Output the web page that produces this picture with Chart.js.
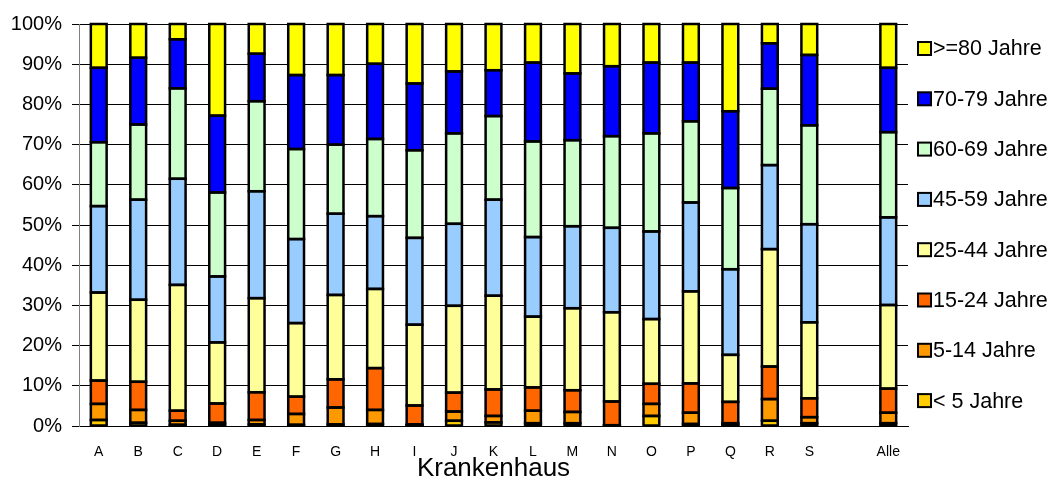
<!DOCTYPE html>
<html>
<head>
<meta charset="utf-8">
<script src="https://cdn.jsdelivr.net/npm/chart.js@4.4.1/dist/chart.umd.min.js"></script>
<style>
  html, body { margin: 0; padding: 0; background: #fff; }
  #wrap { width: 1055px; height: 482px; position: relative; }
</style>
</head>
<body>
<div id="wrap"><canvas id="chart"></canvas></div>
<script>
// Hospitals (an empty slot separates the single hospitals from the total)
const categories = ['A','B','C','D','E','F','G','H','I','J','K','L','M','N','O','P','Q','R','S','','Alle'];

// Share of patients per age group, in percent (each hospital sums to 100)
const under5   = [1.5, 0.8, 0.3, 0.3, 0.4, 0.3, 0.4, 0.5, 0.2, 1.3, 0.9, 0.7, 0.7, 0.1, 2.5, 0.5, 0.3, 1.3, 0.7, null, 0.7];
const age5to14 = [4.0, 3.2, 1.0, 0.5, 1.1, 2.7, 4.2, 3.5, 0.2, 2.3, 1.6, 3.1, 2.8, 0.1, 3.0, 2.8, 0.4, 5.4, 1.5, null, 2.6];
const age15to24= [5.8, 7.0, 2.5, 4.8, 6.9, 4.3, 7.0, 10.4, 4.7, 4.7, 6.6, 5.8, 5.4, 5.9, 5.0, 7.3, 5.3, 8.1, 4.7, null, 6.0];
const age25to44= [21.9, 20.4, 31.3, 15.2, 23.4, 18.3, 21.0, 19.7, 20.1, 21.6, 23.3, 17.6, 20.4, 22.2, 16.1, 22.9, 11.7, 29.2, 18.9, null, 20.8];
const age45to59= [21.5, 24.9, 26.4, 16.4, 26.6, 20.9, 20.2, 18.1, 21.6, 20.4, 23.9, 19.8, 20.4, 21.0, 21.8, 22.1, 21.3, 20.9, 24.4, null, 21.8];
const age60to69= [15.9, 18.7, 22.5, 20.9, 22.4, 22.4, 17.2, 19.2, 21.8, 22.5, 20.8, 23.8, 21.4, 22.8, 24.4, 20.2, 20.2, 19.0, 24.6, null, 21.2];
const age70to79= [18.5, 16.6, 12.2, 19.1, 11.8, 18.4, 17.3, 18.7, 16.6, 15.4, 11.4, 19.6, 16.6, 17.4, 17.6, 14.6, 19.1, 11.3, 17.5, null, 16.0];
const age80plus= [10.9, 8.4, 3.8, 22.8, 7.4, 12.7, 12.7, 9.9, 14.8, 11.8, 11.5, 9.6, 12.3, 10.5, 9.6, 9.6, 21.7, 4.8, 7.7, null, 10.9];

const seriesLabels = ['< 5 Jahre','5-14 Jahre','15-24 Jahre','25-44 Jahre','45-59 Jahre','60-69 Jahre','70-79 Jahre','>=80 Jahre'];
const seriesValues = [under5, age5to14, age15to24, age25to44, age45to59, age60to69, age70to79, age80plus];
const seriesColors = ['#FFCC00','#FF9900','#FF6600','#FFFF99','#99CCFF','#CCFFCC','#0000FF','#FFFF00'];

const yTicks = [0,10,20,30,40,50,60,70,80,90,100];

const FONT = "'Liberation Sans', Arial, sans-serif";

// Black outline around every bar segment, taken from the bar elements' geometry
const segmentOutline = {
  id: 'segmentOutline',
  afterDatasetsDraw(chart) {
    const ctx = chart.ctx;
    ctx.save();
    ctx.lineWidth = 2.5;
    ctx.strokeStyle = '#000';
    chart.data.datasets.forEach((d, i) => {
      const meta = chart.getDatasetMeta(i);
      meta.data.forEach((bar, j) => {
        if (d.data[j] == null) return;
        const p = bar.getProps(['x', 'y', 'base', 'width'], true);
        const left = p.x - p.width / 2;
        const top = Math.min(p.y, p.base);
        const h = Math.abs(p.base - p.y);
        ctx.strokeRect(left, top, p.width, h);
      });
    });
    ctx.restore();
  }
};

// Legend on the right, top entry = oldest age group
const sideLegend = {
  id: 'sideLegend',
  afterDraw(chart) {
    const ctx = chart.ctx;
    const ds = chart.data.datasets;
    ctx.save();
    ctx.font = '21.5px ' + FONT;
    ctx.textBaseline = 'middle';
    ctx.textAlign = 'left';
    for (let k = 0; k < ds.length; k++) {
      const d = ds[ds.length - 1 - k];
      const cy = 48.5 + k * 50.3;
      ctx.fillStyle = d.backgroundColor;
      ctx.fillRect(918, cy - 6.5, 13, 13);
      ctx.lineWidth = 2;
      ctx.strokeStyle = '#000';
      ctx.strokeRect(918, cy - 6.5, 13, 13);
      ctx.fillStyle = '#000';
      ctx.fillText(d.label, 933, cy + 1);
    }
    ctx.restore();
  }
};

new Chart(document.getElementById('chart'), {
  type: 'bar',
  data: {
    labels: categories,
    datasets: seriesLabels.map((lbl, i) => ({
      label: lbl,
      data: seriesValues[i],
      backgroundColor: seriesColors[i],
      borderWidth: 0,
      inflateAmount: 0,
      categoryPercentage: 1,
      barPercentage: 0.40
    }))
  },
  options: {
    responsive: true,
    maintainAspectRatio: false,
    animation: false,
    devicePixelRatio: 1,
    layout: { padding: { top: 24, right: 147, bottom: 0, left: 0 } },
    plugins: {
      legend: { display: false },
      tooltip: { enabled: false }
    },
    scales: {
      x: {
        stacked: true,
        grid: { display: false, drawTicks: false },
        border: { display: true, color: '#000', width: 1 },
        ticks: { color: '#000', font: { family: FONT, size: 14 }, padding: 18, maxRotation: 0, autoSkip: false },
        title: { display: true, text: 'Krankenhaus', color: '#000', font: { family: FONT, size: 26, lineHeight: 1 }, padding: { top: 0, bottom: 0 } },
        afterFit(scale) { scale.height = 56; }
      },
      y: {
        stacked: true,
        min: 0,
        max: 100,
        afterBuildTicks(scale) { scale.ticks = yTicks.map(v => ({ value: v })); },
        ticks: { color: '#000', font: { family: FONT, size: 20 }, padding: 10, callback: v => v + '%' },
        grid: { color: '#000', lineWidth: 1, tickLength: 7, drawTicks: true },
        border: { display: true, color: '#808080', width: 1 },
        afterFit(scale) { scale.width = 79; }
      }
    }
  },
  plugins: [segmentOutline, sideLegend]
});
</script>
</body>
</html>
